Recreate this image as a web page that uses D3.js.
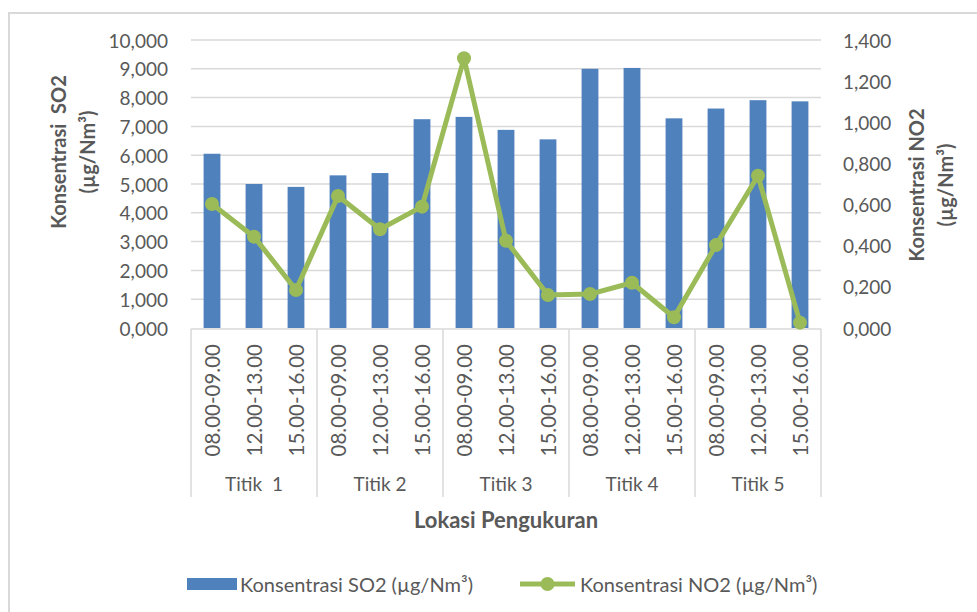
<!DOCTYPE html>
<html>
<head>
<meta charset="utf-8">
<script src="https://cdn.jsdelivr.net/npm/d3@7"></script>
<style>
  html, body { margin: 0; padding: 0; background: #fff; }
  svg { display: block; }
  text { font-family: Lato, "Open Sans", sans-serif; fill: #595959; }
</style>
</head>
<body>
<svg id="chart" width="977" height="612"></svg>
<script>
// ---- data ----
const locations = ["Titik  1", "Titik 2", "Titik 3", "Titik 4", "Titik 5"];
const times = ["08.00-09.00", "12.00-13.00", "15.00-16.00"];
const so2 = [6.05, 5.00, 4.90, 5.30, 5.38, 7.25, 7.33, 6.88, 6.55, 9.00, 9.03, 7.28, 7.62, 7.91, 7.87];
const no2 = [0.603, 0.444, 0.185, 0.642, 0.480, 0.590, 1.311, 0.424, 0.160, 0.165, 0.220, 0.052, 0.403, 0.740, 0.026];
const leftTicks = [0, 1, 2, 3, 4, 5, 6, 7, 8, 9, 10];
const rightTicks = [0, 0.2, 0.4, 0.6, 0.8, 1.0, 1.2, 1.4];
const seriesNames = ["Konsentrasi SO2 (µg/Nm³)", "Konsentrasi NO2 (µg/Nm³)"];

(function () {
const cats = [];
locations.forEach((loc, i) => times.forEach((t, j) => cats.push({loc, t, key: i + "_" + j})));

const svg = d3.select("#chart");
const pLeft = 191, pRight = 821, pTop = 40, pBottom = 328;
const gridColor = "#d9d9d9";
const barColor = "#4F81BD", lineColor = "#9BBB59";
const fmt = d3.formatLocale({decimal: ",", thousands: ".", grouping: [3], currency: ["", ""]}).format(".3f");

// chart frame
svg.append("rect").attr("x", 9).attr("y", 13).attr("width", 1000).attr("height", 700)
  .attr("fill", "none").attr("stroke", gridColor).attr("stroke-width", 2);

const x = d3.scaleBand().domain(cats.map(d => d.key)).range([pLeft, pRight]).paddingInner(0.6).paddingOuter(0.3);
const step = x.step();
const yL = d3.scaleLinear().domain([0, 10]).range([pBottom, pTop]);
const yR = d3.scaleLinear().domain([0, 1.4]).range([pBottom, pTop]);

// gridlines
svg.append("g").selectAll("line").data(leftTicks.filter(v => v > 0)).join("line")
  .attr("x1", pLeft).attr("x2", pRight)
  .attr("y1", d => yL(d)).attr("y2", d => yL(d))
  .attr("stroke", gridColor).attr("stroke-width", 1.5);

// left axis labels
svg.append("g").selectAll("text").data(leftTicks).join("text")
  .attr("x", 168).attr("y", d => yL(d)).attr("text-anchor", "end")
  .attr("dominant-baseline", "central").attr("font-size", 19).text(d => fmt(d));

// right axis labels
svg.append("g").selectAll("text").data(rightTicks).join("text")
  .attr("x", 843).attr("y", d => yR(d)).attr("text-anchor", "start")
  .attr("dominant-baseline", "central").attr("font-size", 19).text(d => fmt(d));

// bars
svg.append("g").selectAll("rect").data(cats).join("rect")
  .attr("x", d => x(d.key)).attr("width", x.bandwidth())
  .attr("y", (d, i) => yL(so2[i])).attr("height", (d, i) => pBottom - yL(so2[i]))
  .attr("fill", barColor);

// category axis
const axisG = svg.append("g");
axisG.append("line").attr("x1", pLeft).attr("x2", pRight).attr("y1", pBottom + 1).attr("y2", pBottom + 1)
  .attr("stroke", gridColor).attr("stroke-width", 1.5);
const bounds = d3.range(locations.length + 1).map(i => pLeft + i * 3 * step);
axisG.selectAll("line.sep").data(bounds).join("line").attr("class", "sep")
  .attr("x1", d => d).attr("x2", d => d).attr("y1", pBottom + 1).attr("y2", 497)
  .attr("stroke", gridColor).attr("stroke-width", 1.5);

// time labels (rotated)
axisG.selectAll("text.time").data(cats).join("text").attr("class", "time")
  .attr("transform", d => `translate(${x(d.key) + x.bandwidth() / 2},344) rotate(-90)`)
  .attr("text-anchor", "end").attr("dominant-baseline", "central")
  .attr("font-size", 20.5).text(d => d.t);

// location labels
axisG.selectAll("text.loc").data(locations).join("text").attr("class", "loc")
  .attr("x", (d, i) => pLeft + (i * 3 + 1.5) * step).attr("y", 483)
  .attr("text-anchor", "middle").attr("dominant-baseline", "central")
  .attr("font-size", 19).style("white-space", "pre").text(d => d);

// axis titles
svg.append("text").attr("x", (pLeft + pRight) / 2).attr("y", 519)
  .attr("text-anchor", "middle").attr("dominant-baseline", "central")
  .attr("font-size", 22).attr("font-weight", "bold").text("Lokasi Pengukuran");

const lt = svg.append("text").attr("transform", "translate(59,152) rotate(-90)")
  .attr("text-anchor", "middle").attr("font-size", 20).attr("font-weight", "bold");
lt.append("tspan").attr("x", 0).attr("dy", "0.35em").style("white-space", "pre").text("Konsentrasi  SO2");
lt.append("tspan").attr("x", 0).attr("dy", 29).text("(µg/Nm³)");

const rt = svg.append("text").attr("transform", "translate(917,185) rotate(-90)")
  .attr("text-anchor", "middle").attr("font-size", 20).attr("font-weight", "bold");
rt.append("tspan").attr("x", 0).attr("dy", "0.35em").text("Konsentrasi NO2");
rt.append("tspan").attr("x", 0).attr("dy", 29).text("(µg/Nm³)");

// NO2 line
const line = d3.line().x((d, i) => x(cats[i].key) + x.bandwidth() / 2).y(d => yR(d));
svg.append("path").datum(no2).attr("d", line).attr("fill", "none")
  .attr("stroke", lineColor).attr("stroke-width", 5).attr("stroke-linejoin", "round");
svg.append("g").selectAll("circle").data(no2).join("circle")
  .attr("cx", (d, i) => x(cats[i].key) + x.bandwidth() / 2).attr("cy", d => yR(d))
  .attr("r", 7).attr("fill", lineColor);

// legend
const lg = svg.append("g");
lg.append("rect").attr("x", 187).attr("y", 578).attr("width", 50).attr("height", 12).attr("fill", barColor);
lg.append("text").attr("x", 240).attr("y", 584).attr("dominant-baseline", "central")
  .attr("font-size", 20).text(seriesNames[0]);
lg.append("line").attr("x1", 520).attr("x2", 575).attr("y1", 584).attr("y2", 584)
  .attr("stroke", lineColor).attr("stroke-width", 5);
lg.append("circle").attr("cx", 547.5).attr("cy", 584).attr("r", 7).attr("fill", lineColor);
lg.append("text").attr("x", 580).attr("y", 584).attr("dominant-baseline", "central")
  .attr("font-size", 20).text(seriesNames[1]);
})();
</script>
</body>
</html>
